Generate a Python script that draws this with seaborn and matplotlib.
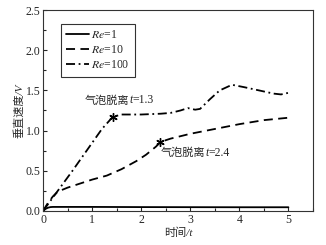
import numpy as np
import pandas as pd
import seaborn as sns
import matplotlib.pyplot as plt
from matplotlib.ticker import MultipleLocator
from matplotlib.font_manager import FontProperties
from matplotlib.offsetbox import TextArea, HPacker, AnnotationBbox

# Re=1
t1 = [0, 0.05, 0.1, 0.15, 0.2, 0.5, 1, 2, 3, 4, 5]
v1 = [0, 0.025, 0.04, 0.048, 0.05, 0.05, 0.05, 0.048, 0.047, 0.046, 0.046]
# Re=10
t10 = [0, 0.1, 0.2, 0.3, 0.5, 0.8, 1.0, 1.3, 1.6, 1.9, 2.1, 2.3, 2.4, 2.6, 3.0, 3.5, 4.0, 4.5, 5.0]
v10 = [0, 0.1, 0.18, 0.24, 0.29, 0.35, 0.39, 0.44, 0.52, 0.62, 0.7, 0.8, 0.86, 0.9, 0.96, 1.02, 1.08, 1.13, 1.16]
# Re=100
t100 = [0, 0.3, 0.6, 0.9, 1.2, 1.42, 1.6, 2.0, 2.4, 2.6, 2.8, 2.95, 3.1, 3.2, 3.4, 3.6, 3.85, 4.1, 4.4, 4.7, 4.85, 5.0]
v100 = [0, 0.25, 0.5, 0.76, 1.02, 1.17, 1.2, 1.2, 1.21, 1.22, 1.25, 1.28, 1.26, 1.27, 1.39, 1.5, 1.57, 1.54, 1.5, 1.46, 1.45, 1.47]

star_t = [1.42, 2.38]
star_v = [1.17, 0.86]
note_cn = '气泡脱离'
note_val = ['=1.3', '=2.4']
note_pos = [(0.85, 1.3), (2.4, 0.65)]

sns.set_style('ticks')
fams = ['Liberation Serif', 'Noto Sans CJK SC']
plt.rcParams['font.family'] = fams
plt.rcParams['xtick.direction'] = 'in'
plt.rcParams['ytick.direction'] = 'in'

fig = plt.figure(figsize=(3.26, 2.45), dpi=100)
ax = fig.add_axes([0.132, 0.139, 0.828, 0.82])

d1 = pd.DataFrame({'t': t1, 'v': v1})
d10 = pd.DataFrame({'t': t10, 'v': v10})
d100 = pd.DataFrame({'t': t100, 'v': v100})
sns.lineplot(data=d1, x='t', y='v', ax=ax, color='black', lw=1.3, label='$Re$=1')
sns.lineplot(data=d10, x='t', y='v', ax=ax, color='black', lw=1.3,
             linestyle=(0, (5, 3)), label='$Re$=10')
sns.lineplot(data=d100, x='t', y='v', ax=ax, color='black', lw=1.3,
             linestyle=(0, (5, 2, 1, 2)), label='$Re$=100')

ax.plot(star_t, star_v, ls='none', marker=(6, 2, 0), color='black', ms=6, mew=1)

fs = 8.5
for val, pos in zip(note_val, note_pos):
    parts = [TextArea(note_cn, textprops=dict(family='Noto Sans CJK SC', size=fs - 0.5)),
             TextArea('t', textprops=dict(family='Liberation Serif', style='italic', size=fs)),
             TextArea(val, textprops=dict(family='Liberation Serif', size=fs))]
    box = HPacker(children=parts, sep=0, pad=0, align='baseline')
    ab = AnnotationBbox(box, pos, xycoords='data', box_alignment=(0, 0), frameon=False, pad=0)
    ax.add_artist(ab)

ax.set_xlim(0, 5.5)
ax.set_ylim(0, 2.5)
ax.xaxis.set_major_locator(MultipleLocator(1))
ax.xaxis.set_minor_locator(MultipleLocator(0.5))
ax.yaxis.set_major_locator(MultipleLocator(0.5))
ax.yaxis.set_minor_locator(MultipleLocator(0.25))
ax.set_yticks([0, 0.5, 1.0, 1.5, 2.0, 2.5])
ax.set_yticklabels(['0.0', '0.5', '1.0', '1.5', '2.0', '2.5'])
ax.tick_params(labelsize=fs, length=3, width=0.8, pad=2)
ax.tick_params(which='minor', length=2, width=0.8)
ax.set_xlabel('时间/t', fontsize=fs - 0.5, family=fams, style='italic', labelpad=1)
ax.set_ylabel('垂直速度/V', fontsize=fs - 0.5, family=fams, style='italic', labelpad=1)
for s in ax.spines.values():
    s.set_linewidth(0.8)
    s.set_color('#333333')

leg = ax.legend(loc='upper left', bbox_to_anchor=(0.067, 0.93), borderaxespad=0,
                prop=FontProperties(family='Liberation Serif', size=fs, math_fontfamily='stix'),
                frameon=True, fancybox=False, handlelength=1.9, handletextpad=0.2,
                borderpad=0.45, labelspacing=0.25)
leg.get_frame().set_edgecolor('black')
leg.get_frame().set_linewidth(0.8)

fig.savefig('out.png', dpi=100)
